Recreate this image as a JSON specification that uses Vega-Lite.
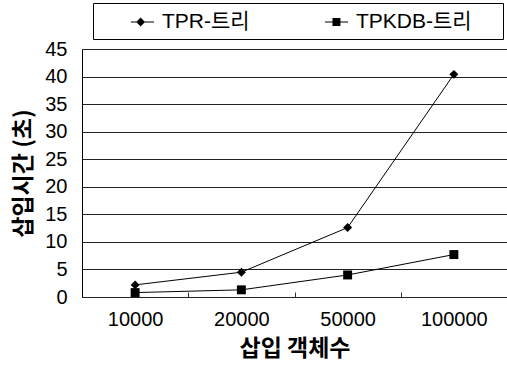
{
  "$schema": "https://vega.github.io/schema/vega-lite/v6.json",
  "autosize": "none",
  "width": 425,
  "height": 248,
  "padding": {"left": 82, "top": 49, "right": 0, "bottom": 77},
  "background": "white",
  "config": {
    "view": {"stroke": null},
    "font": "Liberation Sans"
  },
  "data": {
    "values": [
      {"n": "10000", "series": "TPR-트리", "t": 2.2},
      {"n": "20000", "series": "TPR-트리", "t": 4.5},
      {"n": "50000", "series": "TPR-트리", "t": 12.6},
      {"n": "100000", "series": "TPR-트리", "t": 40.4},
      {"n": "10000", "series": "TPKDB-트리", "t": 0.8},
      {"n": "20000", "series": "TPKDB-트리", "t": 1.3},
      {"n": "50000", "series": "TPKDB-트리", "t": 4.0},
      {"n": "100000", "series": "TPKDB-트리", "t": 7.7}
    ]
  },
  "encoding": {
    "x": {
      "field": "n", "type": "ordinal", "sort": ["10000", "20000", "50000", "100000"],
      "scale": {"paddingInner": 0, "paddingOuter": 0},
      "axis": {
        "title": "삽입 객체수", "titleFont": "Noto Sans CJK KR", "titleFontSize": 23, "titleFontWeight": "bold",
        "titleColor": "black", "titlePadding": 8,
        "labelAngle": 0, "labelFontSize": 20, "labelColor": "black", "labelPadding": 12,
        "offset": -5,
        "domain": false, "tickBand": "extent", "ticks": true, "tickSize": 5, "tickColor": "#333", "grid": false
      }
    },
    "y": {
      "field": "t", "type": "quantitative",
      "scale": {"domain": [0, 45], "nice": false},
      "axis": {
        "title": "삽입시간 (초)", "titleFont": "Noto Sans CJK KR", "titleFontSize": 23, "titleFontWeight": "bold",
        "titleColor": "black", "titlePadding": 9,
        "values": [0, 5, 10, 15, 20, 25, 30, 35, 40, 45],
        "labelFontSize": 20, "labelColor": "black", "labelPadding": 15,
        "ticks": false, "domain": true, "domainColor": "black",
        "grid": true, "gridColor": "#222", "gridOpacity": 1, "gridWidth": 1
      }
    }
  },
  "layer": [
    {
      "mark": {"type": "line", "color": "black", "strokeWidth": 1},
      "encoding": {"detail": {"field": "series"}}
    },
    {
      "mark": {"type": "point", "filled": true, "color": "black", "opacity": 1, "size": 80},
      "encoding": {
        "shape": {
          "field": "series", "type": "nominal",
          "scale": {"domain": ["TPR-트리", "TPKDB-트리"], "range": ["diamond", "square"]},
          "legend": null
        }
      }
    },
    {
      "mark": {"type": "point", "filled": true, "color": "black", "opacity": 0, "size": 10},
      "encoding": {
        "shape": {
          "field": "series", "type": "nominal",
          "scale": {"domain": ["TPR-트리", "TPKDB-트리"], "range": ["M-1,0L-1,0ZM1.72,-0.045H3.82V0.045H1.72ZM2.6,-0.4L3.0,0L2.6,0.4L2.2,0Z", "M-1,0L-1,0ZM1.72,-0.045H3.82V0.045H1.72ZM2.41,-0.36H3.13V0.36H2.41ZM17.0,0L17.0,0Z"]},
          "legend": {
            "title": null, "orient": "none", "legendX": 11, "legendY": -46,
            "direction": "horizontal", "columns": 2, "columnPadding": 42,
            "padding": 7, "strokeColor": "black", "fillColor": "white",
            "symbolSize": 484, "labelOffset": 38,
            "symbolOpacity": 1, "symbolFillColor": "black",
            "labelFont": "Liberation Sans, Noto Sans CJK KR", "labelFontSize": 21, "labelColor": "black"
          }
        }
      }
    }
  ],
  "resolve": {"scale": {"shape": "independent"}}
}
